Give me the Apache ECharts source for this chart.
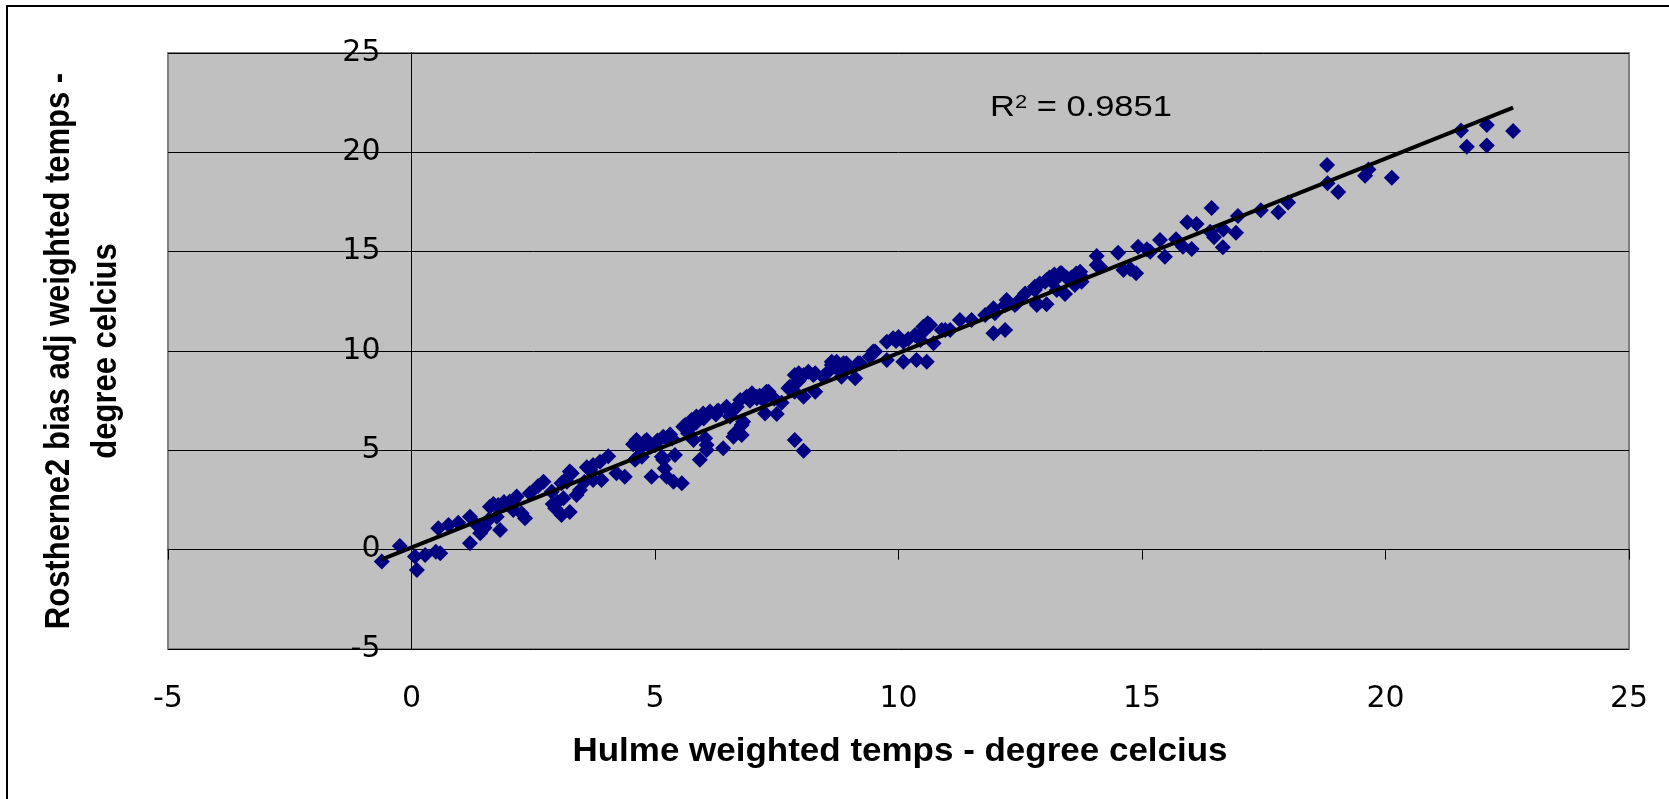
<!DOCTYPE html>
<html><head><meta charset="utf-8">
<script src="https://cdn.jsdelivr.net/npm/echarts@6/dist/echarts.min.js"></script>
<style>html,body{margin:0;padding:0;background:#fff}#c{width:1669px;height:799px}</style>
</head><body><div id="c"></div>
<script>
// Axis ticks (min, max, step)
const xTicks = [-5, 0, 5, 10, 15, 20, 25];
const yTicks = [-5, 0, 5, 10, 15, 20, 25];

// Hulme weighted temps (x) and Rostherne2 bias adj weighted temps (y), degree celcius
const hulme = [
-0.61,-0.24,0.07,0.11,0.28,0.50,0.59,0.55,0.76,0.96,1.20,1.20,1.34,1.41,1.50,1.58,1.61,1.75,1.78,1.82,
2.02,2.09,2.16,2.26,2.33,2.43,2.71,2.88,2.95,3.00,3.08,3.08,3.12,3.19,3.25,3.25,3.29,3.39,3.46,3.55,
3.60,3.67,3.73,3.73,3.87,3.90,4.04,4.21,4.38,4.55,4.59,4.62,4.62,4.69,4.73,4.79,4.83,4.90,4.93,5.00,
5.05,5.14,5.17,5.17,5.20,5.24,5.31,5.38,5.41,5.55,5.58,5.62,5.68,5.75,5.79,5.85,5.92,5.92,6.03,6.06,
6.06,6.00,6.13,6.25,6.30,6.40,6.54,6.54,6.61,6.61,6.64,6.68,6.78,6.78,6.81,6.88,6.95,7.09,7.15,7.22,
7.26,7.29,7.33,7.45,7.50,7.60,7.74,7.77,7.87,7.87,7.87,7.95,8.05,8.05,8.05,8.25,8.29,8.29,8.45,8.59,
8.63,8.63,8.70,8.80,8.83,8.87,8.97,9.11,9.17,9.21,9.41,9.48,9.52,9.76,9.76,9.89,10.10,10.10,10.20,10.34,
10.37,10.45,10.51,10.58,10.58,10.65,10.72,10.89,10.96,11.06,11.26,11.50,11.78,11.95,11.98,11.95,12.19,12.19,12.22,12.39,
12.43,12.50,12.60,12.80,12.80,12.84,12.84,13.01,13.04,13.04,13.15,13.25,13.25,13.32,13.35,13.42,13.45,13.62,13.73,13.73,
13.76,14.07,14.07,14.14,14.51,14.62,14.76,14.88,14.92,15.10,15.17,15.37,15.47,15.70,15.84,15.93,16.02,16.12,16.40,16.43,
16.48,16.66,16.67,16.93,16.97,17.44,17.80,18.00,18.80,18.81,19.03,19.58,19.65,20.13,21.55,21.67,22.08,22.08,22.62,
6.47,6.75,6.99,7.09,5.75,5.85,5.99,6.27,4.79,5.24,5.35,10.51,10.60,8.73,8.93,7.95,8.15,12.90,13.10,13.20,
13.55,13.65,1.68,1.90,2.10,2.60,2.90,3.15,9.95,10.00
];
const rostherne = [
-0.60,0.19,-0.35,-1.02,-0.27,-0.10,-0.18,1.08,1.24,1.36,1.66,0.32,1.24,0.83,1.10,1.49,2.16,1.66,2.25,0.99,
2.42,2.00,2.67,1.83,1.58,2.84,3.42,2.92,2.08,2.40,1.74,3.34,2.59,3.42,3.93,1.90,3.85,2.75,3.00,3.40,
4.15,4.01,4.26,3.51,4.43,3.51,4.70,3.85,3.67,5.30,4.52,4.60,5.52,5.10,4.68,5.35,5.52,5.18,3.67,5.27,
5.50,4.68,5.69,4.52,4.09,3.67,5.80,3.42,4.77,3.34,6.19,6.28,5.86,6.20,5.52,6.40,6.61,4.52,5.61,5.02,
5.27,6.60,6.95,6.80,7.00,5.10,6.95,6.70,7.03,5.69,5.86,7.20,5.77,6.28,6.44,7.70,7.50,7.62,7.75,7.53,
6.86,7.95,7.95,7.60,6.83,7.40,8.12,8.20,8.79,7.95,5.52,8.50,7.70,8.79,4.98,8.79,7.95,8.88,8.70,9.04,
9.29,9.46,9.20,9.04,8.71,9.38,9.21,8.63,9.38,9.38,9.71,9.97,9.97,9.55,10.47,10.64,9.46,10.47,10.60,10.80,
9.55,10.55,10.97,11.31,9.46,11.31,10.39,11.06,11.06,11.06,11.56,11.56,11.81,12.15,11.90,10.89,11.06,12.32,12.57,12.32,
12.40,12.60,12.90,13.07,13.24,12.32,12.40,13.49,13.57,12.35,13.50,13.07,13.66,13.91,13.91,12.87,13.70,13.32,13.99,13.82,
13.49,14.78,14.33,14.24,14.95,14.08,14.13,13.91,15.25,15.12,15.00,15.59,14.75,15.62,15.25,16.48,15.13,16.39,16.00,17.20,
15.72,15.22,16.12,15.95,16.80,17.08,16.98,17.48,19.36,18.44,18.00,18.82,19.14,18.72,21.10,20.28,21.37,20.35,21.07,
7.20,7.53,7.87,7.70,6.53,6.70,6.86,6.95,5.44,5.61,5.60,11.22,11.40,9.46,9.38,8.88,8.96,13.40,13.70,13.85,
13.70,13.90,2.30,2.40,2.50,3.20,2.30,3.50,10.50,10.70
];

// Linear trend line end points
const trendX = [-0.61, 22.62];
const trendY = [-0.49, 22.25];
const r2Text = '0.9851';

const points = hulme.map((x, i) => [x, rostherne[i]]);
const trend = trendX.map((x, i) => [x, trendY[i]]);
const xMin = xTicks[0], xMax = xTicks[xTicks.length - 1];
const yMin = yTicks[0], yMax = yTicks[yTicks.length - 1];
const step = xTicks[1] - xTicks[0];
const ystep = yTicks[1] - yTicks[0];

const G = {left: 168, top: 53, width: 1461, height: 596};
// the value axis crosses at x = 0: shift it inward from the grid's left edge
const yAxisOffset = -((0 - xMin) / (xMax - xMin)) * G.width;

const chart = echarts.init(document.getElementById('c'), null, {renderer: 'canvas'});
const tickFont = {fontFamily: 'DejaVu Sans', fontSize: 30, color: '#000'};
chart.setOption({
  backgroundColor: '#fff',
  animation: false,
  grid: Object.assign({show: true, backgroundColor: '#C0C0C0', borderColor: '#808080', borderWidth: 2}, G),
  xAxis: [
    {type: 'value', min: xMin, max: xMax, interval: step, position: 'bottom',
     axisLine: {show: false, onZero: false}, axisTick: {show: false}, splitLine: {show: false},
     axisLabel: Object.assign({margin: 35}, tickFont)},
    {type: 'value', min: xMin, max: xMax, interval: step, position: 'bottom',
     axisLine: {show: true, onZero: true, onZeroAxisIndex: 0, lineStyle: {color: '#000', width: 1}},
     axisTick: {show: true, inside: false, length: 10, lineStyle: {color: '#000', width: 1}},
     axisLabel: {show: false}, splitLine: {show: false}}
  ],
  yAxis: {type: 'value', min: yMin, max: yMax, interval: ystep, position: 'left', offset: yAxisOffset,
     axisLine: {show: true, onZero: false, lineStyle: {color: '#000', width: 1}},
     axisTick: {show: true, inside: false, length: 10, lineStyle: {color: '#000', width: 1}},
     splitLine: {show: true, lineStyle: {color: '#000', width: 1}},
     axisLabel: Object.assign({margin: 31}, tickFont)},
  series: [
    {type: 'scatter', xAxisIndex: 0, data: points, symbol: 'diamond', symbolSize: 16,
     itemStyle: {color: '#000080', opacity: 1}, z: 2},
    {type: 'line', xAxisIndex: 0, data: trend, showSymbol: false, symbol: 'none',
     lineStyle: {color: '#000', width: 4}, z: 3}
  ],
  graphic: [
    {type: 'rect', shape: {x: 7, y: 6, width: 1700, height: 900},
     style: {fill: 'none', stroke: '#000', lineWidth: 2}, z: 100, silent: true},
    {type: 'text', x: 900, y: 752, scaleX: 1.06,
     style: {text: 'Hulme weighted temps - degree celcius', fontFamily: 'Liberation Sans, Arial',
             fontWeight: 'bold', fontSize: 33, fill: '#000', textAlign: 'center', textVerticalAlign: 'middle'}},
    {type: 'text', x: 83, y: 351, rotation: Math.PI / 2, scaleY: 1.12,
     style: {text: 'Rostherne2 bias adj weighted temps -\ndegree celcius', fontFamily: 'Liberation Sans, Arial',
             fontWeight: 'bold', fontSize: 31, lineHeight: 42, fill: '#000', textAlign: 'center', textVerticalAlign: 'middle'}},
    {type: 'text', x: 990, y: 108, scaleX: 1.15,
     style: {text: '{a|R}{s|2}{a| = ' + r2Text + '}', textVerticalAlign: 'middle', textAlign: 'left',
             rich: {a: {fontFamily: 'Liberation Sans, Arial', fontSize: 30, fill: '#000', lineHeight: 30},
                    s: {fontFamily: 'Liberation Sans, Arial', fontSize: 19, fill: '#000', verticalAlign: 'top', lineHeight: 30}}}}
  ]
});
</script></body></html>
